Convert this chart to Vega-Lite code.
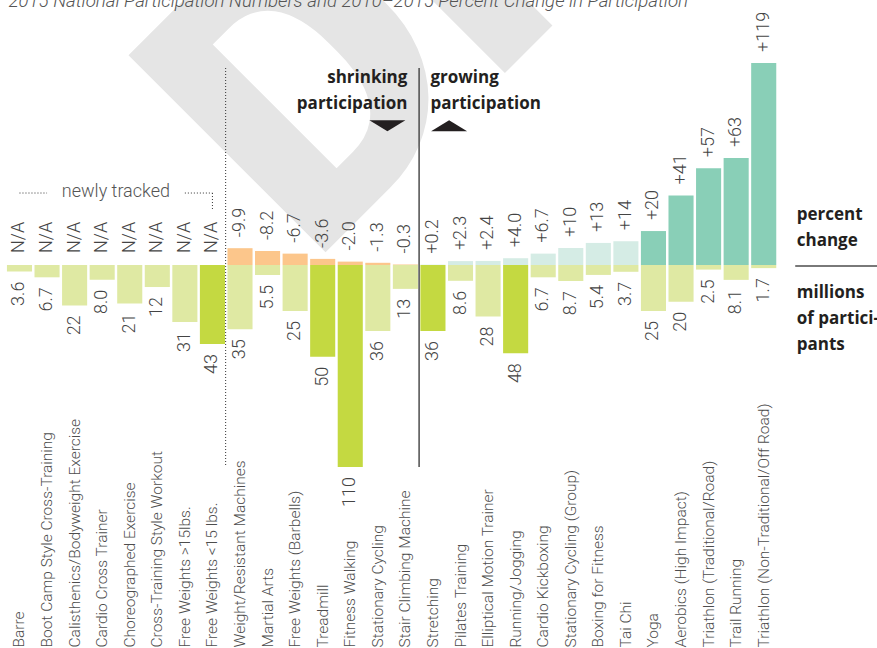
{
  "$schema": "https://vega.github.io/schema/vega-lite/v6.json",
  "width": 877,
  "height": 648,
  "autosize": {"type": "none"},
  "padding": 0,
  "background": "white",
  "config": {
    "view": {"stroke": null},
    "font": "Roboto",
    "axisY": {"disable": true},
    "axisX": {
      "domain": false, "ticks": false, "grid": false,
      "labelAngle": 270, "labelAlign": "left", "labelBaseline": "middle",
      "labelPadding": -1, "labelFont": "Roboto", "labelFontWeight": 300,
      "labelFontSize": 15.5, "labelColor": "#4d4d4d", "labelLimit": 0, "labelOverlap": false
    }
  },
  "datasets": {
    "activities": [
      {"activity": "Barre", "trend": "newly tracked", "change": null, "changeLabel": "N/A", "millions": 3.6, "rank": "other"},
      {"activity": "Boot Camp Style Cross-Training", "trend": "newly tracked", "change": null, "changeLabel": "N/A", "millions": 6.7, "rank": "other"},
      {"activity": "Calisthenics/Bodyweight Exercise", "trend": "newly tracked", "change": null, "changeLabel": "N/A", "millions": 22, "rank": "other"},
      {"activity": "Cardio Cross Trainer", "trend": "newly tracked", "change": null, "changeLabel": "N/A", "millions": 8.0, "rank": "other"},
      {"activity": "Choreographed Exercise", "trend": "newly tracked", "change": null, "changeLabel": "N/A", "millions": 21, "rank": "other"},
      {"activity": "Cross-Training Style Workout", "trend": "newly tracked", "change": null, "changeLabel": "N/A", "millions": 12, "rank": "other"},
      {"activity": "Free Weights >15lbs.", "trend": "newly tracked", "change": null, "changeLabel": "N/A", "millions": 31, "rank": "other"},
      {"activity": "Free Weights <15 lbs.", "trend": "newly tracked", "change": null, "changeLabel": "N/A", "millions": 43, "rank": "top five"},
      {"activity": "Weight/Resistant Machines", "trend": "shrinking", "change": 9.9, "changeLabel": "-9.9", "millions": 35, "rank": "other"},
      {"activity": "Martial Arts", "trend": "shrinking", "change": 8.2, "changeLabel": "-8.2", "millions": 5.5, "rank": "other"},
      {"activity": "Free Weights (Barbells)", "trend": "shrinking", "change": 6.7, "changeLabel": "-6.7", "millions": 25, "rank": "other"},
      {"activity": "Treadmill", "trend": "shrinking", "change": 3.6, "changeLabel": "-3.6", "millions": 50, "rank": "top five"},
      {"activity": "Fitness Walking", "trend": "shrinking", "change": 2.0, "changeLabel": "-2.0", "millions": 110, "rank": "top five"},
      {"activity": "Stationary Cycling", "trend": "shrinking", "change": 1.3, "changeLabel": "-1.3", "millions": 36, "rank": "other"},
      {"activity": "Stair Climbing Machine", "trend": "shrinking", "change": 0.3, "changeLabel": "-0.3", "millions": 13, "rank": "other"},
      {"activity": "Stretching", "trend": "growing", "change": 0.2, "changeLabel": "+0.2", "millions": 36, "rank": "top five"},
      {"activity": "Pilates Training", "trend": "growing", "change": 2.3, "changeLabel": "+2.3", "millions": 8.6, "rank": "other"},
      {"activity": "Elliptical Motion Trainer", "trend": "growing", "change": 2.4, "changeLabel": "+2.4", "millions": 28, "rank": "other"},
      {"activity": "Running/Jogging", "trend": "growing", "change": 4.0, "changeLabel": "+4.0", "millions": 48, "rank": "top five"},
      {"activity": "Cardio Kickboxing", "trend": "growing", "change": 6.7, "changeLabel": "+6.7", "millions": 6.7, "rank": "other"},
      {"activity": "Stationary Cycling (Group)", "trend": "growing", "change": 10, "changeLabel": "+10", "millions": 8.7, "rank": "other"},
      {"activity": "Boxing for Fitness", "trend": "growing", "change": 13, "changeLabel": "+13", "millions": 5.4, "rank": "other"},
      {"activity": "Tai Chi", "trend": "growing", "change": 14, "changeLabel": "+14", "millions": 3.7, "rank": "other"},
      {"activity": "Yoga", "trend": "growing fast", "change": 20, "changeLabel": "+20", "millions": 25, "rank": "other"},
      {"activity": "Aerobics (High Impact)", "trend": "growing fast", "change": 41, "changeLabel": "+41", "millions": 20, "rank": "other"},
      {"activity": "Triathlon (Traditional/Road)", "trend": "growing fast", "change": 57, "changeLabel": "+57", "millions": 2.5, "rank": "other"},
      {"activity": "Trail Running", "trend": "growing fast", "change": 63, "changeLabel": "+63", "millions": 8.1, "rank": "other"},
      {"activity": "Triathlon (Non-Traditional/Off Road)", "trend": "growing fast", "change": 119, "changeLabel": "+119", "millions": 1.7, "rank": "other"}
    ]
  },
  "data": {"name": "activities"},
  "layer": [
    {
      "layer": [
        {
          "data": {"values": [{}]},
          "mark": {"type": "text", "text": "DRAFT", "font": "Roboto", "fontWeight": 900, "fontSize": 392, "angle": 315, "align": "left", "baseline": "alphabetic", "color": "#e5e5e5", "xOffset": 0.4},
          "encoding": {
            "x": {"datum": "Treadmill", "type": "nominal", "bandPosition": 0, "title": null},
            "y": {"datum": -1.41, "type": "quantitative", "axis": null}
          }
        },
        {
          "data": {"values": [{}]},
          "mark": {"type": "text", "text": "2015 National Participation Numbers and 2010–2015 Percent Change in Participation", "font": "Roboto", "fontStyle": "italic", "fontWeight": 300, "fontSize": 18.7, "align": "left", "baseline": "alphabetic", "color": "#555555", "xOffset": 1.5},
          "encoding": {
            "x": {"datum": "Barre", "type": "nominal", "bandPosition": 0, "title": null},
            "y": {"datum": 152.2, "type": "quantitative", "axis": null}
          }
        },
        {
          "mark": {"type": "bar"},
          "encoding": {
            "x": {"field": "activity", "type": "nominal", "title": null,
              "scale": {"domain": ["Barre", "Boot Camp Style Cross-Training", "Calisthenics/Bodyweight Exercise", "Cardio Cross Trainer", "Choreographed Exercise", "Cross-Training Style Workout", "Free Weights >15lbs.", "Free Weights <15 lbs.", "Weight/Resistant Machines", "Martial Arts", "Free Weights (Barbells)", "Treadmill", "Fitness Walking", "Stationary Cycling", "Stair Climbing Machine", "Stretching", "Pilates Training", "Elliptical Motion Trainer", "Running/Jogging", "Cardio Kickboxing", "Stationary Cycling (Group)", "Boxing for Fitness", "Tai Chi", "Yoga", "Aerobics (High Impact)", "Triathlon (Traditional/Road)", "Trail Running", "Triathlon (Non-Traditional/Off Road)"],
                "range": [5.7, 777.5], "paddingInner": 0.09, "paddingOuter": 0.045}},
            "y": {"field": "change", "type": "quantitative", "axis": null,
              "scale": {"domain": [0, 119], "range": [265, 63], "nice": false, "zero": true}},
            "color": {"field": "trend", "type": "nominal", "legend": null,
              "scale": {"domain": ["shrinking", "growing", "growing fast"], "range": ["#fcc68b", "#d5ece5", "#89cfb7"]}}
          }
        },
        {
          "transform": [{"filter": {"field": "trend", "oneOf": ["shrinking", "growing", "growing fast"]}}],
          "mark": {"type": "text", "angle": 270, "align": "left", "baseline": "middle", "dx": 11, "font": "Roboto", "fontWeight": 300, "fontSize": 18, "color": "#444444"},
          "encoding": {
            "x": {"field": "activity", "type": "nominal", "title": null},
            "y": {"field": "change", "type": "quantitative", "axis": null},
            "text": {"field": "changeLabel"}
          }
        },
        {
          "transform": [{"filter": {"field": "trend", "equal": "newly tracked"}}],
          "mark": {"type": "text", "angle": 270, "align": "left", "baseline": "middle", "dx": 12, "font": "Roboto", "fontWeight": 300, "fontSize": 18, "color": "#444444"},
          "encoding": {
            "x": {"field": "activity", "type": "nominal", "title": null},
            "y": {"datum": 0, "type": "quantitative", "axis": null},
            "text": {"field": "changeLabel"}
          }
        },
        {
          "data": {"values": [{}]},
          "mark": {"type": "rule", "color": "#4d4d4d", "strokeWidth": 1.5, "xOffset": -1.3},
          "encoding": {
            "x": {"datum": "Stretching", "type": "nominal", "bandPosition": 0, "title": null},
            "y": {"datum": 116.05, "type": "quantitative", "axis": null},
            "y2": {"datum": -119}
          }
        },
        {
          "data": {"values": [{}]},
          "mark": {"type": "rule", "color": "#333333", "strokeWidth": 1, "strokeDash": [1, 2], "xOffset": -1.8},
          "encoding": {
            "x": {"datum": "Weight/Resistant Machines", "type": "nominal", "bandPosition": 0, "title": null},
            "y": {"datum": 116.05, "type": "quantitative", "axis": null},
            "y2": {"datum": -119}
          }
        },
        {
          "data": {"values": [{}]},
          "mark": {"type": "text", "text": "newly tracked", "font": "Roboto", "fontWeight": 300, "fontSize": 18, "align": "center", "baseline": "alphabetic", "color": "#555555", "xOffset": -1.3},
          "encoding": {
            "x": {"datum": "Choreographed Exercise", "type": "nominal", "bandPosition": 0, "title": null},
            "y": {"datum": 40.35, "type": "quantitative", "axis": null}
          }
        },
        {
          "data": {"values": [{}]},
          "mark": {"type": "rule", "color": "#333333", "strokeWidth": 1, "strokeDash": [1, 2]},
          "encoding": {
            "x": {"datum": "Barre", "type": "nominal", "bandPosition": 0.5, "title": null},
            "x2": {"datum": "Boot Camp Style Cross-Training", "bandPosition": 0.5},
            "y": {"datum": 42.4, "type": "quantitative", "axis": null}
          }
        },
        {
          "data": {"values": [{}]},
          "mark": {"type": "rule", "color": "#333333", "strokeWidth": 1, "strokeDash": [1, 2]},
          "encoding": {
            "x": {"datum": "Free Weights >15lbs.", "type": "nominal", "bandPosition": 0.5, "title": null},
            "x2": {"datum": "Free Weights <15 lbs.", "bandPosition": 0.5},
            "y": {"datum": 42.4, "type": "quantitative", "axis": null}
          }
        },
        {
          "data": {"values": [{}]},
          "mark": {"type": "rule", "color": "#333333", "strokeWidth": 1, "strokeDash": [1, 2]},
          "encoding": {
            "x": {"datum": "Free Weights <15 lbs.", "type": "nominal", "bandPosition": 0.5, "title": null},
            "y": {"datum": 42.4, "type": "quantitative", "axis": null},
            "y2": {"datum": 33.0}
          }
        },
        {
          "data": {"values": [{}]},
          "mark": {"type": "text", "text": ["shrinking", "participation"], "lineHeight": 26, "font": "Open Sans", "fontWeight": 700, "fontSize": 17, "align": "right", "baseline": "alphabetic", "color": "#231f20", "xOffset": -13},
          "encoding": {
            "x": {"datum": "Stretching", "type": "nominal", "bandPosition": 0, "title": null},
            "y": {"datum": 107.4, "type": "quantitative", "axis": null}
          }
        },
        {
          "data": {"values": [{}]},
          "mark": {"type": "text", "text": ["growing", "participation"], "lineHeight": 26, "font": "Open Sans", "fontWeight": 700, "fontSize": 17, "align": "left", "baseline": "alphabetic", "color": "#231f20", "xOffset": 10},
          "encoding": {
            "x": {"datum": "Stretching", "type": "nominal", "bandPosition": 0, "title": null},
            "y": {"datum": 107.4, "type": "quantitative", "axis": null}
          }
        },
        {
          "data": {"values": [{}]},
          "mark": {"type": "point", "shape": "M-1,-0.306L1,-0.306L0,0.306Z", "size": 1296, "filled": true, "color": "#231f20", "opacity": 1, "strokeWidth": 0, "xOffset": -33},
          "encoding": {
            "x": {"datum": "Stretching", "type": "nominal", "bandPosition": 0, "title": null},
            "y": {"datum": 82.0, "type": "quantitative", "axis": null}
          }
        },
        {
          "data": {"values": [{}]},
          "mark": {"type": "point", "shape": "M-1,0.306L1,0.306L0,-0.306Z", "size": 1296, "filled": true, "color": "#231f20", "opacity": 1, "strokeWidth": 0, "xOffset": 28.7},
          "encoding": {
            "x": {"datum": "Stretching", "type": "nominal", "bandPosition": 0, "title": null},
            "y": {"datum": 82.0, "type": "quantitative", "axis": null}
          }
        },
        {
          "data": {"values": [{}]},
          "mark": {"type": "text", "text": ["percent", "change"], "lineHeight": 26, "font": "Open Sans", "fontWeight": 700, "fontSize": 17, "align": "left", "baseline": "alphabetic", "color": "#231f20", "xOffset": 20.5},
          "encoding": {
            "x": {"datum": "Triathlon (Non-Traditional/Off Road)", "type": "nominal", "bandPosition": 1, "title": null},
            "y": {"datum": 26.8, "type": "quantitative", "axis": null}
          }
        }
      ]
    },
    {
      "layer": [
        {
          "mark": {"type": "bar"},
          "encoding": {
            "x": {"field": "activity", "type": "nominal", "title": null},
            "y": {"field": "millions", "type": "quantitative", "axis": null,
              "scale": {"domain": [0, 110], "range": [265, 467], "nice": false, "zero": true}},
            "color": {"field": "rank", "type": "nominal", "legend": null,
              "scale": {"domain": ["other", "top five"], "range": ["#dfe9a3", "#c4d941"]}}
          }
        },
        {
          "mark": {"type": "text", "angle": 270, "align": "right", "baseline": "middle", "dx": -10, "font": "Roboto", "fontWeight": 300, "fontSize": 18, "color": "#444444"},
          "encoding": {
            "x": {"field": "activity", "type": "nominal", "title": null},
            "y": {"field": "millions", "type": "quantitative", "axis": null},
            "text": {"field": "millions", "type": "quantitative", "format": ".2r"}
          }
        },
        {
          "data": {"values": [{}]},
          "mark": {"type": "text", "text": ["millions", "of partici-", "pants"], "lineHeight": 26.3, "font": "Open Sans", "fontWeight": 700, "fontSize": 17, "align": "left", "baseline": "alphabetic", "color": "#231f20", "xOffset": 20.5},
          "encoding": {
            "x": {"datum": "Triathlon (Non-Traditional/Off Road)", "type": "nominal", "bandPosition": 1, "title": null},
            "y": {"datum": 17.7, "type": "quantitative", "axis": null}
          }
        },
        {
          "data": {"values": [{}]},
          "mark": {"type": "tick", "orient": "horizontal", "size": 84, "thickness": 1.5, "color": "#4d4d4d", "opacity": 1, "xOffset": 73.5},
          "encoding": {
            "x": {"datum": "Triathlon (Non-Traditional/Off Road)", "type": "nominal", "bandPosition": 1, "title": null},
            "y": {"datum": 0.54, "type": "quantitative", "axis": null}
          }
        }
      ]
    }
  ],
  "resolve": {"scale": {"y": "independent", "color": "independent"}}
}
